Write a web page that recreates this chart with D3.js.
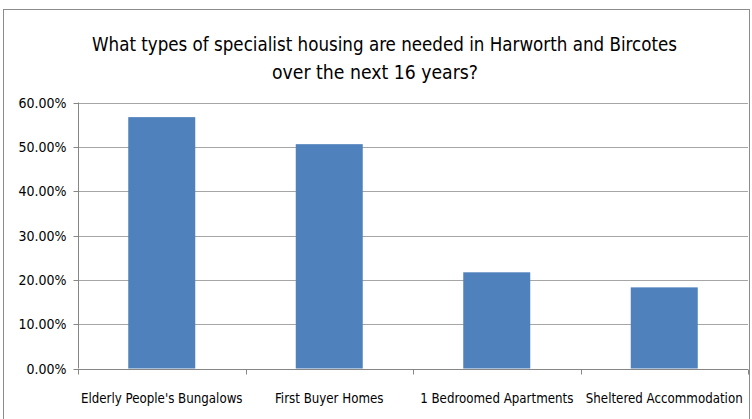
<!DOCTYPE html>
<html>
<head>
<meta charset="utf-8">
<script src="https://cdn.jsdelivr.net/npm/d3@7"></script>
<style>
  html, body { margin: 0; padding: 0; background: #fff; }
  svg { display: block; }
  text { font-family: "DejaVu Sans Condensed", "Liberation Sans Narrow", Arial, sans-serif; fill: #000; }
</style>
</head>
<body>
<svg id="chart" width="752" height="419"></svg>
<script>
const titleLines = ["What types of specialist housing are needed in Harworth and Bircotes", "over the next 16 years?"];
const categories = ["Elderly People's Bungalows", "First Buyer Homes", "1 Bedroomed Apartments", "Sheltered Accommodation"];
const values = [0.567, 0.506, 0.217, 0.183];
const yTicks = [0, 0.1, 0.2, 0.3, 0.4, 0.5, 0.6];

const svg = d3.select("#chart");
const W = 752, H = 419;
const plot = { left: 78, right: 748, top: 102.5, bottom: 368.5 };

// chart frame
svg.append("rect")
  .attr("x", 3.5).attr("y", 9.5)
  .attr("width", W - 6).attr("height", H + 10)
  .attr("fill", "#fff").attr("stroke", "#8c8c8c").attr("stroke-width", 1);

// title, two centred lines
const titleX = [384.5, 375];
const titleW = [585, 206];
const title = svg.append("text")
  .attr("text-anchor", "middle")
  .style("font-size", "19.5px");
titleLines.forEach((t, i) => {
  title.append("tspan")
    .attr("x", titleX[i]).attr("y", 51 + i * 28)
    .attr("textLength", titleW[i]).attr("lengthAdjust", "spacingAndGlyphs")
    .text(t);
});

const x = d3.scaleBand().domain(categories).range([plot.left, plot.right]).paddingInner(0.6).paddingOuter(0.3);
const y = d3.scaleLinear().domain([0, 0.6]).range([plot.bottom, plot.top]);

// gridlines
svg.append("g")
  .selectAll("line").data(yTicks.filter(d => d > 0)).join("line")
  .attr("x1", plot.left).attr("x2", plot.right)
  .attr("y1", d => Math.round(y(d)) + 0.5).attr("y2", d => Math.round(y(d)) + 0.5)
  .attr("stroke", "#a6a6a6").attr("stroke-width", 1);

// bars
svg.append("g")
  .selectAll("rect").data(values).join("rect")
  .attr("x", (d, i) => x(categories[i]))
  .attr("width", x.bandwidth())
  .attr("y", d => y(d))
  .attr("height", d => y(0) - y(d))
  .attr("fill", "#4f81bd");

// y axis
const yAxis = d3.axisLeft(y).tickValues(yTicks).tickFormat(d3.format(".2%")).tickSize(5).tickPadding(6);
const gy = svg.append("g").attr("transform", `translate(${plot.left + 0.5},0)`).call(yAxis);
gy.selectAll("path, line").attr("stroke", "#868686");
gy.select(".domain").attr("d", `M0,${plot.top}V${plot.bottom}`);
gy.selectAll("text").style("font-size", "14px").attr("fill", "#000").attr("dx", "-1");
gy.selectAll(".tick").attr("transform", d => `translate(0,${Math.round(y(d)) + 0.5})`);

// x axis with boundary ticks between categories
const xb = d3.scaleLinear().domain([0, categories.length]).range([plot.left, plot.right]);
const gx = svg.append("g");
gx.append("line")
  .attr("x1", plot.left).attr("x2", plot.right)
  .attr("y1", Math.round(y(0)) + 0.5).attr("y2", Math.round(y(0)) + 0.5)
  .attr("stroke", "#868686");
gx.selectAll("line.tk").data(d3.range(categories.length + 1)).join("line")
  .attr("class", "tk")
  .attr("x1", d => Math.round(xb(d)) + 0.5).attr("x2", d => Math.round(xb(d)) + 0.5)
  .attr("y1", Math.round(y(0)) + 0.5).attr("y2", Math.round(y(0)) + 5.5)
  .attr("stroke", "#868686");
gx.selectAll("text").data(categories).join("text")
  .attr("x", d => x(d) + x.bandwidth() / 2)
  .attr("y", 403)
  .attr("text-anchor", "middle")
  .style("font-size", "13.2px")
  .text(d => d);
</script>
</body>
</html>
